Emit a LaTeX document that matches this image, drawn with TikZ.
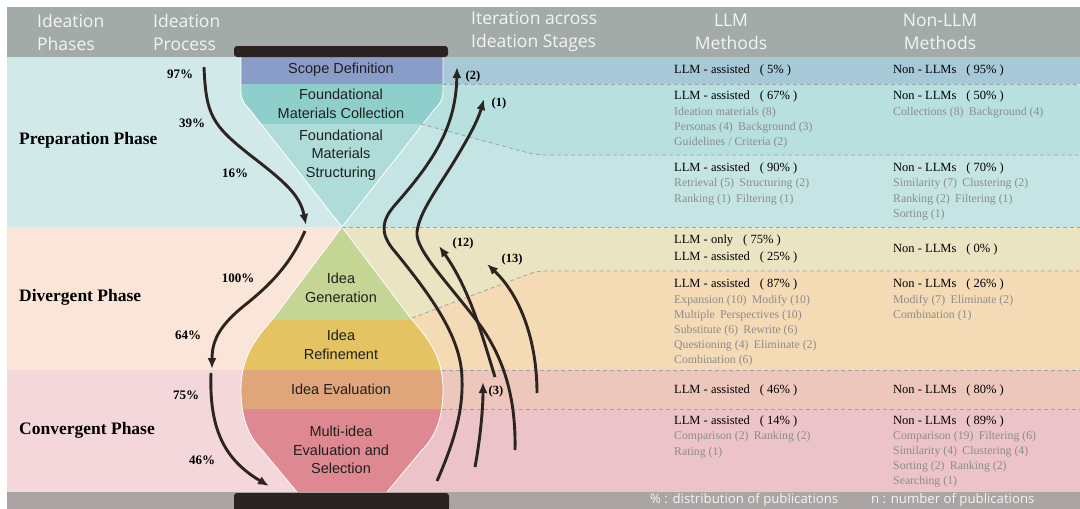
\documentclass[tikz,border=0pt]{standalone}
\usepackage{fontspec}
\setmainfont{Liberation Serif}
\newfontfamily\hdrfont{Open Sans}
\newfontfamily\arialfont{Liberation Sans}
\usetikzlibrary{arrows.meta}
\definecolor{hdrgray}{HTML}{A3ABA9}
\definecolor{botgray}{HTML}{AAA4A4}
\definecolor{barblack}{HTML}{2B2321}
\definecolor{prepL}{HTML}{D2E9E9}
\definecolor{divL}{HTML}{FAE5D8}
\definecolor{conL}{HTML}{F4D7DB}
\definecolor{scopeR}{HTML}{A7C9D7}
\definecolor{collR}{HTML}{B7E0DE}
\definecolor{structR}{HTML}{C5E5E4}
\definecolor{genR}{HTML}{EAE4C2}
\definecolor{refR}{HTML}{F4DAB5}
\definecolor{evalR}{HTML}{EDC7BB}
\definecolor{multiR}{HTML}{ECC3C8}
\definecolor{scopeH}{HTML}{8A9CC8}
\definecolor{collH}{HTML}{8FCFCB}
\definecolor{structH}{HTML}{AFDCD8}
\definecolor{genH}{HTML}{C5D694}
\definecolor{refH}{HTML}{E4C462}
\definecolor{evalH}{HTML}{DFA67B}
\definecolor{multiH}{HTML}{DE8991}
\definecolor{arrowc}{HTML}{2B2421}
\definecolor{dashc}{HTML}{9DA5A8}
\definecolor{itemgray}{HTML}{8C8C8C}
\definecolor{hdrtext}{HTML}{F4F4F4}
\newcommand{\igap}{\hspace{0.45em}}
\newcommand{\mgap}{\hspace{0.8em}}
\begin{document}
\begin{tikzpicture}[x=1pt,y=-1pt,
  pct/.style={font=\bfseries\fontsize{13}{15}\selectfont, text=black, inner sep=0},
  phase/.style={font=\bfseries\fontsize{17.5}{20}\selectfont, anchor=west, inner sep=0, text=black},
  hdr/.style={font=\hdrfont\fontsize{17.5}{23}\selectfont, text=hdrtext, inner sep=0},
  hg/.style={font=\arialfont\fontsize{14.5}{18.5}\selectfont, align=center, inner sep=0, text=black!88},
  mt/.style={font=\fontsize{12.5}{15}\selectfont, anchor=west, inner sep=0, text=black},
  it/.style={font=\fontsize{11.8}{15}\selectfont, anchor=west, inner sep=0, text=itemgray},
  lab/.style={font=\bfseries\fontsize{12.5}{14}\selectfont, inner sep=0, text=black},
  bot/.style={font=\hdrfont\fontsize{13.2}{15}\selectfont, text=hdrtext, anchor=west, inner sep=0},
  flow/.style={draw=arrowc, line width=2.9pt, -{Latex[length=11pt,width=9pt]}},
  dashl/.style={draw=dashc, line width=0.8pt, dash pattern=on 4pt off 3pt},
  hgedge/.style={draw=white, line width=0.8pt}
]
\useasboundingbox (0,0) rectangle (1080,509);
\fill[white] (0,0) rectangle (1080,509);
% bands
\fill[hdrgray] (7,7) rectangle (1080,57);
\fill[prepL] (7,57) rectangle (342,227);
\fill[divL] (7,227) rectangle (342,370);
\fill[conL] (7,370) rectangle (342,492);
\fill[scopeR] (342,57) rectangle (1080,84);
\fill[structR] (342,84) rectangle (1080,227);
\fill[collR, rounded corners=6pt] (342,84) -- (1080,84) -- (1080,155) -- (536,155) -- (420,124) -- (342,124) -- cycle;
\fill[refR] (342,227) rectangle (1080,370);
\fill[genR, rounded corners=6pt] (342,227) -- (1080,227) -- (1080,271) -- (537,271) -- (412,318) -- (342,318) -- cycle;
\fill[evalR] (342,370) rectangle (1080,409);
\fill[multiR] (342,409) rectangle (1080,492);
\fill[botgray] (7,492) rectangle (1080,509);
% top bulb
\begin{scope}
\clip (241,57) -- (241,92) .. controls (241,100) and (245,105) .. (250,110) -- (342,227) -- (434,110) .. controls (439,105) and (443,100) .. (443,92) -- (443,57) -- cycle;
\fill[scopeH] (230,50) rectangle (455,84);
\fill[collH] (230,84) rectangle (455,124);
\fill[structH] (230,124) rectangle (455,230);
\end{scope}
\draw[hgedge] (241,57) -- (241,92) .. controls (241,100) and (245,105) .. (250,110) -- (342,227) -- (434,110) .. controls (439,105) and (443,100) .. (443,92) -- (443,57);
% bottom bulb
\begin{scope}
\clip (342,227) -- (278,312) .. controls (262,333) and (241,350) .. (241,390) .. controls (241,420) and (250,438) .. (262,450) -- (297,492) -- (387,492) -- (422,450) .. controls (434,438) and (443,420) .. (443,390) .. controls (443,350) and (422,333) .. (406,312) -- cycle;
\fill[genH] (230,220) rectangle (455,320);
\fill[refH] (230,320) rectangle (455,370);
\fill[evalH] (230,370) rectangle (455,409);
\fill[multiH] (230,409) rectangle (455,495);
\end{scope}
\draw[hgedge] (297,492) -- (262,450) .. controls (250,438) and (241,420) .. (241,390) .. controls (241,350) and (262,333) .. (278,312) -- (342,227) -- (406,312) .. controls (422,333) and (443,350) .. (443,390) .. controls (443,420) and (434,438) .. (422,450) -- (387,492);
% dashed separators
\draw[dashl] (443,84) -- (1080,84);
\draw[dashl, rounded corners=8pt] (421,124) -- (536,155) -- (1080,155);
\draw[dashl] (342,227) -- (1080,227);
\draw[dashl, rounded corners=8pt] (412,318) -- (537,271) -- (1080,271);
\draw[dashl] (442,370) -- (1080,370);
\draw[dashl] (442,409) -- (1080,409);
% black bars
\fill[barblack, rounded corners=3pt] (234,46) rectangle (448,57);
\fill[barblack, rounded corners=3pt] (234,493) rectangle (449,509);
\fill[barblack] (234,500) rectangle (449,509);
% headers
\node[hdr, align=left, anchor=west] (h1) at (37,32) {Ideation\\Phases};
\node[hdr, align=left, anchor=west] (h2) at (153,32) {Ideation\\Process};
\node[hdr, align=left, anchor=west] (h3) at (471,32) {Iteration across\\Ideation Stages};
\node[hdr, align=center] (h4) at (731,32) {LLM\\Methods};
\node[hdr, align=center] (h5) at (940,32) {Non-LLM\\Methods};
% phase labels
\node[phase] (ph1) at (19,140) {Preparation Phase};
\node[phase] (ph2) at (19,297) {Divergent Phase};
\node[phase] (ph3) at (19,430) {Convergent Phase};
% hourglass labels
\node[hg] (s1) at (341,70) {Scope Definition};
\node[hg] (s2) at (341,104) {Foundational\\Materials Collection};
\node[hg] (s3) at (341,155) {Foundational\\Materials\\Structuring};
\node[hg] (s4) at (341,288) {Idea\\Generation};
\node[hg] (s5) at (341,345) {Idea\\Refinement};
\node[hg] (s6) at (341,389) {Idea Evaluation};
\node[hg] (s7) at (341,450) {Multi-idea\\Evaluation and\\Selection};
% percentages
\node[pct] (p1) at (180,74) {97\%};
\node[pct] (p2) at (192,123) {39\%};
\node[pct] (p3) at (235,173) {16\%};
\node[pct] (p4) at (238,278) {100\%};
\node[pct] (p5) at (188,335) {64\%};
\node[pct] (p6) at (186,395) {75\%};
\node[pct] (p7) at (202,460) {46\%};
% process arrows
\coordinate (a1s) at (204,67);
\coordinate (a1e) at (306,225);
\coordinate (a2s) at (305,231);
\coordinate (a2e) at (212,369);
\coordinate (a3s) at (211,373);
\coordinate (a3e) at (269,486);
\draw[flow] (a1s) .. controls (206,115) and (212,125) .. (250,155) .. controls (285,182) and (300,195) .. (a1e);
\draw[flow] (a2s) .. controls (290,265) and (270,285) .. (245,305) .. controls (220,325) and (212,340) .. (a2e);
\draw[flow] (a3s) .. controls (209,430) and (225,460) .. (a3e);
% iteration arrows
\coordinate (i2s) at (437,481);
\coordinate (i2e) at (457,67);
\coordinate (i1s) at (515,450);
\coordinate (i1e) at (484,99);
\coordinate (i12s) at (495,377);
\coordinate (i12e) at (439,246);
\coordinate (i13s) at (537,393);
\coordinate (i13e) at (487,264);
\coordinate (i3s) at (475,467);
\coordinate (i3e) at (483,382);
\draw[flow] (i2s) .. controls (455,440) and (463,410) .. (462,380) .. controls (462,340) and (435,300) .. (392,248) .. controls (380,232) and (382,220) .. (395,205) .. controls (430,165) and (456,130) .. (i2e);
\draw[flow] (i1s) .. controls (516,400) and (505,360) .. (480,325) .. controls (450,285) and (415,250) .. (417,232) .. controls (419,212) and (440,185) .. (455,160) .. controls (470,135) and (478,120) .. (i1e);
\draw[flow] (i12s) .. controls (482,335) and (470,290) .. (i12e);
\draw[flow] (i13s) .. controls (537,340) and (520,295) .. (i13e);
\draw[flow] (i3s) .. controls (480,440) and (483,410) .. (i3e);
\node[lab] (l2) at (473,76) {(2)};
\node[lab] (l1) at (499,103) {(1)};
\node[lab] (l12) at (463,243) {(12)};
\node[lab] (l13) at (512,259) {(13)};
\node[lab] (l3) at (496,391) {(3)};
% LLM column
\node[mt] (r1) at (674,70) {LLM - assisted\mgap( 5\% )};
\node[mt] (r2a) at (674,96) {LLM - assisted\mgap( 67\% )};
\node[it] (r2b) at (674,113) {Ideation materials (8)};
\node[it] (r2c) at (674,128) {Personas (4)\igap Background (3)};
\node[it] (r2d) at (674,143) {Guidelines / Criteria (2)};
\node[mt] (r3a) at (674,168) {LLM - assisted\mgap( 90\% )};
\node[it] (r3b) at (674,184) {Retrieval (5)\igap Structuring (2)};
\node[it] (r3c) at (674,200) {Ranking (1)\igap Filtering (1)};
\node[mt] (r4a) at (674,241) {LLM - only\mgap( 75\% )};
\node[mt] (r4b) at (674,257) {LLM - assisted\mgap( 25\% )};
\node[mt] (r5a) at (674,284) {LLM - assisted\mgap( 87\% )};
\node[it] (r5b) at (674,301) {Expansion (10)\igap Modify (10)};
\node[it] (r5c) at (674,316) {Multiple\igap Perspectives (10)};
\node[it] (r5d) at (674,331) {Substitute (6)\igap Rewrite (6)};
\node[it] (r5e) at (674,346) {Questioning (4)\igap Eliminate (2)};
\node[it] (r5f) at (674,361) {Combination (6)};
\node[mt] (r6) at (674,390) {LLM - assisted\mgap( 46\% )};
\node[mt] (r7a) at (674,421) {LLM - assisted\mgap( 14\% )};
\node[it] (r7b) at (674,437) {Comparison (2)\igap Ranking (2)};
\node[it] (r7c) at (674,453) {Rating (1)};
% Non-LLM column
\node[mt] (n1) at (893,70) {Non - LLMs\mgap( 95\% )};
\node[mt] (n2a) at (893,96) {Non - LLMs\mgap( 50\% )};
\node[it] (n2b) at (893,113) {Collections (8)\igap Background (4)};
\node[mt] (n3a) at (893,168) {Non - LLMs\mgap( 70\% )};
\node[it] (n3b) at (893,184) {Similarity (7)\igap Clustering (2)};
\node[it] (n3c) at (893,200) {Ranking (2)\igap Filtering (1)};
\node[it] (n3d) at (893,215) {Sorting (1)};
\node[mt] (n4) at (893,249) {Non - LLMs\mgap( 0\% )};
\node[mt] (n5a) at (893,284) {Non - LLMs\mgap( 26\% )};
\node[it] (n5b) at (893,301) {Modify (7)\igap Eliminate (2)};
\node[it] (n5c) at (893,316) {Combination (1)};
\node[mt] (n6) at (893,390) {Non - LLMs\mgap( 80\% )};
\node[mt] (n7a) at (893,421) {Non - LLMs\mgap( 89\% )};
\node[it] (n7b) at (893,437) {Comparison (19)\igap Filtering (6)};
\node[it] (n7c) at (893,452) {Similarity (4)\igap Clustering (4)};
\node[it] (n7d) at (893,467) {Sorting (2)\igap Ranking (2)};
\node[it] (n7e) at (893,482) {Searching (1)};
% bottom legend
\node[bot] (b1) at (650,500) {\% : distribution of publications};
\node[bot] (b2) at (871,500) {n : number of publications};
\end{tikzpicture}
\end{document}
